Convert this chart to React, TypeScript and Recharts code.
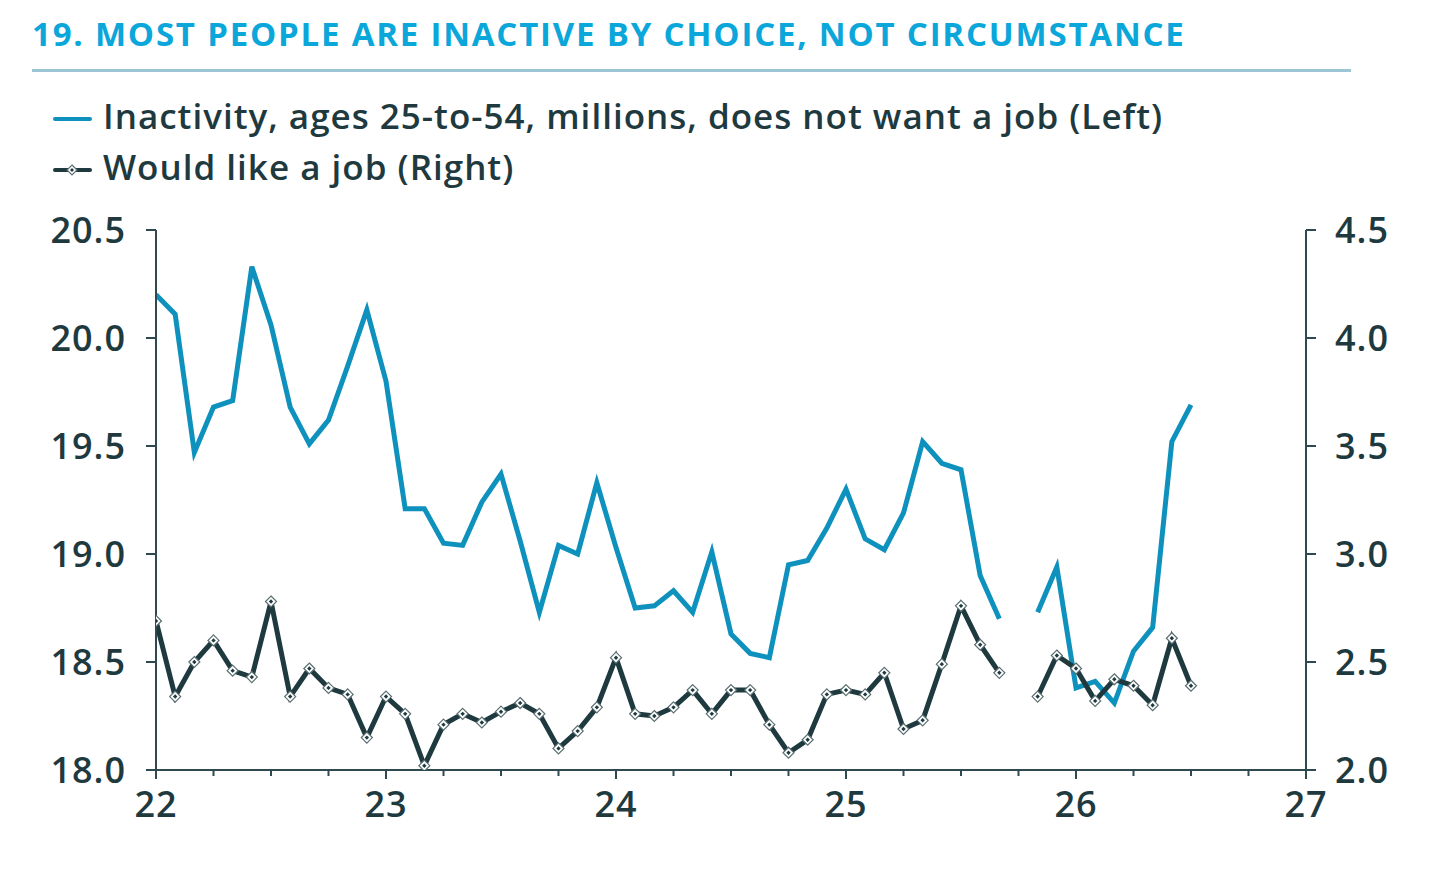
import React from "react";
import { LineChart, Line, XAxis, YAxis } from "recharts";

const startYear = 22;
const monthLabels: string[] = [
  "2022-01","2022-02","2022-03","2022-04","2022-05","2022-06","2022-07","2022-08","2022-09","2022-10","2022-11","2022-12",
  "2023-01","2023-02","2023-03","2023-04","2023-05","2023-06","2023-07","2023-08","2023-09","2023-10","2023-11","2023-12",
  "2024-01","2024-02","2024-03","2024-04","2024-05","2024-06","2024-07","2024-08","2024-09","2024-10","2024-11","2024-12",
  "2025-01","2025-02","2025-03","2025-04","2025-05","2025-06","2025-07","2025-08","2025-09","2025-10","2025-11","2025-12",
  "2026-01","2026-02","2026-03","2026-04","2026-05","2026-06","2026-07",
];

const doesNotWant: (number | null)[] = [
  20.2, 20.11, 19.47, 19.68, 19.71, 20.33, 20.06, 19.68, 19.51, 19.62, 19.87, 20.13,
  19.8, 19.21, 19.21, 19.05, 19.04, 19.24, 19.37, 19.06, 18.73, 19.04, 19.0, 19.33,
  19.03, 18.75, 18.76, 18.83, 18.73, 19.01, 18.63, 18.54, 18.52, 18.95, 18.97, 19.12,
  19.3, 19.07, 19.02, 19.19, 19.52, 19.42, 19.39, 18.9, 18.7, null, 18.73, 18.94,
  18.38, 18.41, 18.31, 18.55, 18.66, 19.52, 19.69,
];

const wouldLike: (number | null)[] = [
  2.69, 2.34, 2.5, 2.6, 2.46, 2.43, 2.78, 2.34, 2.47, 2.38, 2.35, 2.15,
  2.34, 2.26, 2.02, 2.21, 2.26, 2.22, 2.27, 2.31, 2.26, 2.1, 2.18, 2.29,
  2.52, 2.26, 2.25, 2.29, 2.37, 2.26, 2.37, 2.37, 2.21, 2.08, 2.14, 2.35,
  2.37, 2.35, 2.45, 2.19, 2.23, 2.49, 2.76, 2.58, 2.45, null, 2.34, 2.53,
  2.47, 2.32, 2.42, 2.39, 2.3, 2.61, 2.39,
];

const xTicks: number[] = [
  22, 22.25, 22.5, 22.75, 23, 23.25, 23.5, 23.75, 24, 24.25, 24.5, 24.75,
  25, 25.25, 25.5, 25.75, 26, 26.25, 26.5, 26.75, 27,
];
const leftTicks: number[] = [18, 18.5, 19, 19.5, 20, 20.5];
const rightTicks: number[] = [2, 2.5, 3, 3.5, 4, 4.5];

const title = "19. MOST PEOPLE ARE INACTIVE BY CHOICE, NOT CIRCUMSTANCE";
const legendLeft = "Inactivity, ages 25-to-54, millions, does not want a job (Left)";
const legendRight = "Would like a job (Right)";

const data = monthLabels.map((m, i) => ({
  month: m,
  t: startYear + i / 12,
  notWant: doesNotWant[i],
  wouldLike: wouldLike[i],
}));

const BLUE = "#0F91BD";
const DARK = "#1F3A3F";
const AXIS = "#2E4A50";
const TITLE = "#0BA6DA";
const FONT = "'Open Sans', sans-serif";

const XTick = (props: any) => {
  const { x, y, payload } = props;
  const v = payload.value as number;
  const isYear = Math.abs(v - Math.round(v)) < 1e-6;
  return (
    <g>
      <line x1={x} x2={x} y1={y} y2={y + (isYear ? 9 : 6)} stroke={AXIS} strokeWidth={2} />
      {isYear && (
        <text
          x={x}
          y={y + 47}
          textAnchor="middle"
          fill={DARK}
          fontSize={36}
          fontWeight={600}
          fontFamily={FONT}
          letterSpacing={1}
        >
          {Math.round(v)}
        </text>
      )}
    </g>
  );
};

const Diamond = (props: any) => {
  const { cx, cy, index } = props;
  if (cx == null || cy == null || props.value == null) return <g key={`d-${index}`} />;
  const r = 5.5;
  const r2 = 2.2;
  return (
    <g key={`d-${index}`}>
      <path
        d={`M${cx},${cy - r}L${cx + r},${cy}L${cx},${cy + r}L${cx - r},${cy}Z`}
        fill="#ffffff"
        stroke="#5a6e72"
        strokeWidth={1.2}
      />
      <path
        d={`M${cx},${cy - r2}L${cx + r2},${cy}L${cx},${cy + r2}L${cx - r2},${cy}Z`}
        fill={DARK}
      />
    </g>
  );
};

const tickStyle = { fontSize: 36, fontWeight: 600, fill: DARK, fontFamily: FONT, letterSpacing: 1 };

export default function App() {
  return (
    <div
      style={{
        position: "absolute",
        left: 0,
        top: 0,
        width: 1440,
        height: 876,
        background: "#ffffff",
        fontFamily: FONT,
        overflow: "hidden",
      }}
    >
      <div
        style={{
          position: "absolute",
          left: 32,
          top: 13,
          fontSize: 33,
          fontWeight: 700,
          letterSpacing: 1.8,
          color: TITLE,
          lineHeight: "42px",
          whiteSpace: "nowrap",
        }}
      >
        {title}
      </div>
      <div
        style={{
          position: "absolute",
          left: 32,
          top: 69,
          width: 1319,
          height: 3,
          background: "#9DC6D4",
        }}
      />
      <div style={{ position: "absolute", left: 53, top: 117, width: 39, height: 4, background: BLUE, borderRadius: 2 }} />
      <div
        style={{
          position: "absolute",
          left: 103,
          top: 94,
          fontSize: 35,
          fontWeight: 600,
          letterSpacing: 1,
          color: DARK,
          lineHeight: "44px",
          whiteSpace: "nowrap",
        }}
      >
        {legendLeft}
      </div>
      <div style={{ position: "absolute", left: 53, top: 168, width: 39, height: 4, background: DARK, borderRadius: 2 }} />
      <svg style={{ position: "absolute", left: 66, top: 164 }} width={12} height={12}>
        <path d="M6,1L11,6L6,11L1,6Z" fill="#fff" stroke="#5a6e72" strokeWidth={1.2} />
        <path d="M6,4L8,6L6,8L4,6Z" fill={DARK} />
      </svg>
      <div
        style={{
          position: "absolute",
          left: 103,
          top: 145,
          fontSize: 35,
          fontWeight: 600,
          letterSpacing: 1,
          color: DARK,
          lineHeight: "44px",
          whiteSpace: "nowrap",
        }}
      >
        {legendRight}
      </div>
      <div style={{ position: "absolute", left: 0, top: 0 }}>
        <LineChart
          width={1440}
          height={876}
          data={data}
          margin={{ top: 230, right: 34, bottom: 46, left: 56 }}
        >
          <XAxis
            dataKey="t"
            type="number"
            domain={[22, 27]}
            ticks={xTicks}
            interval={0}
            allowDataOverflow
            axisLine={{ stroke: AXIS, strokeWidth: 2 }}
            tickLine={false}
            tickSize={0}
            tickMargin={0}
            tick={<XTick />}
            height={60}
          />
          <YAxis
            yAxisId="left"
            orientation="left"
            domain={[18, 20.5]}
            ticks={leftTicks}
            interval={0}
            allowDataOverflow
            width={100}
            axisLine={{ stroke: AXIS, strokeWidth: 2 }}
            tickLine={{ stroke: AXIS, strokeWidth: 2 }}
            tickSize={10}
            tickMargin={20}
            tick={tickStyle}
            tickFormatter={(v: number) => v.toFixed(1)}
          />
          <YAxis
            yAxisId="right"
            orientation="right"
            domain={[2, 4.5]}
            ticks={rightTicks}
            interval={0}
            allowDataOverflow
            width={100}
            axisLine={{ stroke: AXIS, strokeWidth: 2 }}
            tickLine={{ stroke: AXIS, strokeWidth: 2 }}
            tickSize={10}
            tickMargin={19}
            tick={tickStyle}
            tickFormatter={(v: number) => v.toFixed(1)}
          />
          <Line
            yAxisId="left"
            type="linear"
            dataKey="notWant"
            stroke={BLUE}
            strokeWidth={5}
            dot={false}
            activeDot={false}
            isAnimationActive={false}
            connectNulls={false}
          />
          <Line
            yAxisId="right"
            type="linear"
            dataKey="wouldLike"
            stroke={DARK}
            strokeWidth={5}
            dot={<Diamond />}
            activeDot={false}
            isAnimationActive={false}
            connectNulls={false}
          />
        </LineChart>
      </div>
    </div>
  );
}
